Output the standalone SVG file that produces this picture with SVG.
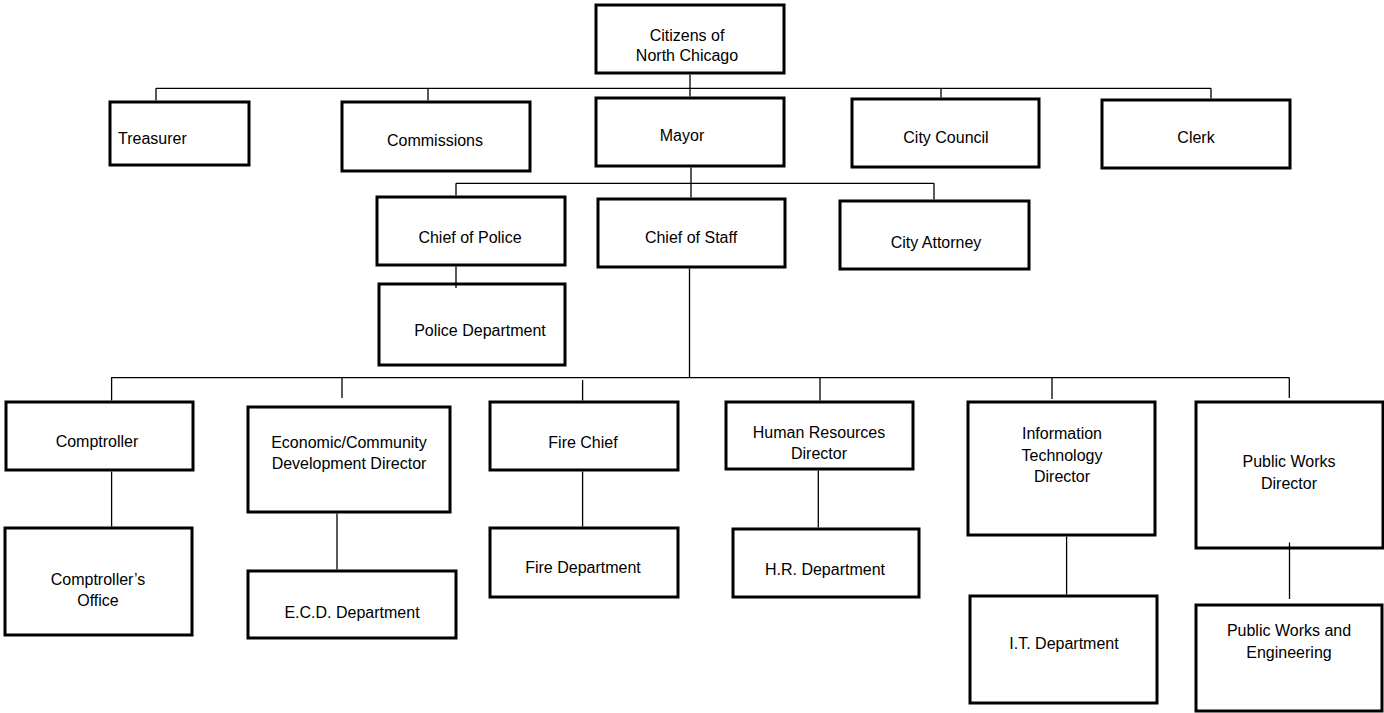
<svg xmlns="http://www.w3.org/2000/svg" width="1384" height="713" viewBox="0 0 1384 713">
<style>
.box{fill:#fff;stroke:#000;stroke-width:3}
.lbl{font-family:"Liberation Sans",Arial,sans-serif;font-size:16px;fill:#000;text-anchor:middle}
.conn{fill:none;stroke:#000;stroke-width:1.3}
</style>
<rect width="1384" height="713" fill="#fff"/>
<g id="citizens"><rect class="box" x="596" y="5" width="188" height="68"/><text class="lbl" x="687" y="41">Citizens of</text><text class="lbl" x="687" y="61">North Chicago</text></g>
<g id="treasurer"><rect class="box" x="110" y="102" width="139" height="63"/><text class="lbl" x="118" y="144" style="text-anchor:start">Treasurer</text></g>
<g id="commissions"><rect class="box" x="342" y="102" width="188" height="69"/><text class="lbl" x="435" y="146">Commissions</text></g>
<g id="mayor"><rect class="box" x="596" y="98" width="188" height="68"/><text class="lbl" x="682" y="141">Mayor</text></g>
<g id="city-council"><rect class="box" x="852" y="99" width="187" height="68"/><text class="lbl" x="946" y="143">City Council</text></g>
<g id="clerk"><rect class="box" x="1102" y="100" width="188" height="68"/><text class="lbl" x="1196" y="143">Clerk</text></g>
<g id="chief-of-police"><rect class="box" x="377" y="197" width="188" height="68"/><text class="lbl" x="470" y="243">Chief of Police</text></g>
<g id="chief-of-staff"><rect class="box" x="598" y="199" width="187" height="68"/><text class="lbl" x="691" y="243">Chief of Staff</text></g>
<g id="city-attorney"><rect class="box" x="840" y="201" width="189" height="68"/><text class="lbl" x="936" y="248">City Attorney</text></g>
<g id="police-department"><rect class="box" x="379" y="284" width="186" height="81"/><text class="lbl" x="480" y="336">Police Department</text></g>
<g id="comptroller"><rect class="box" x="6" y="402" width="187" height="68"/><text class="lbl" x="97" y="447">Comptroller</text></g>
<g id="comptrollers-office"><rect class="box" x="5" y="528" width="187" height="107"/><text class="lbl" x="98" y="585">Comptroller’s</text><text class="lbl" x="98" y="606">Office</text></g>
<g id="ecd-director"><rect class="box" x="248" y="407" width="202" height="105"/><text class="lbl" x="349" y="448">Economic/Community</text><text class="lbl" x="349" y="469">Development Director</text></g>
<g id="ecd-department"><rect class="box" x="248" y="571" width="208" height="67"/><text class="lbl" x="352" y="618">E.C.D. Department</text></g>
<g id="fire-chief"><rect class="box" x="490" y="402" width="188" height="68"/><text class="lbl" x="583" y="448">Fire Chief</text></g>
<g id="fire-department"><rect class="box" x="490" y="528" width="188" height="69"/><text class="lbl" x="583" y="573">Fire Department</text></g>
<g id="hr-director"><rect class="box" x="726" y="402" width="187" height="67"/><text class="lbl" x="819" y="438">Human Resources</text><text class="lbl" x="819" y="459">Director</text></g>
<g id="hr-department"><rect class="box" x="733" y="529" width="186" height="68"/><text class="lbl" x="825" y="575">H.R. Department</text></g>
<g id="it-director"><rect class="box" x="968" y="402" width="187" height="133"/><text class="lbl" x="1062" y="439">Information</text><text class="lbl" x="1062" y="461">Technology</text><text class="lbl" x="1062" y="482">Director</text></g>
<g id="it-department"><rect class="box" x="970" y="596" width="187" height="107"/><text class="lbl" x="1064" y="649">I.T. Department</text></g>
<g id="pw-director"><rect class="box" x="1196" y="402" width="187" height="146"/><text class="lbl" x="1289" y="467">Public Works</text><text class="lbl" x="1289" y="489">Director</text></g>
<g id="pw-engineering"><rect class="box" x="1196" y="605" width="186" height="106"/><text class="lbl" x="1289" y="636">Public Works and</text><text class="lbl" x="1289" y="658">Engineering</text></g>
<g id="connectors" class="conn">
<path d="M690,74.5 V96.5"/>
<path d="M156,88.3 H1211"/>
<path d="M156,88.3 V100.5 M428,88.3 V100.5 M941,88.3 V97.5 M1211,88.3 V98.5"/>
<path d="M691,167.5 V183.3"/>
<path d="M456,183.3 H934"/>
<path d="M456,183.3 V195.5 M691,183.3 V197.5 M934,183.3 V199.5"/>
<path d="M456,266.5 V288"/>
<path d="M689.5,268.5 V377.7"/>
<path d="M111,377.7 H1289.5"/>
<path d="M111.6,377.7 V400.5 M342,377.7 V398 M582.6,380 V400.5 M820,377.7 V400.5 M1052,377.7 V399 M1289.3,377.7 V398"/>
<path d="M111.6,471.5 V526.5"/>
<path d="M337,513.5 V569.5"/>
<path d="M582.6,471.5 V526.5"/>
<path d="M818.3,470.5 V527.5"/>
<path d="M1066.6,536.5 V594.5"/>
<path d="M1289.5,542.5 V599"/>
</g>
</svg>
